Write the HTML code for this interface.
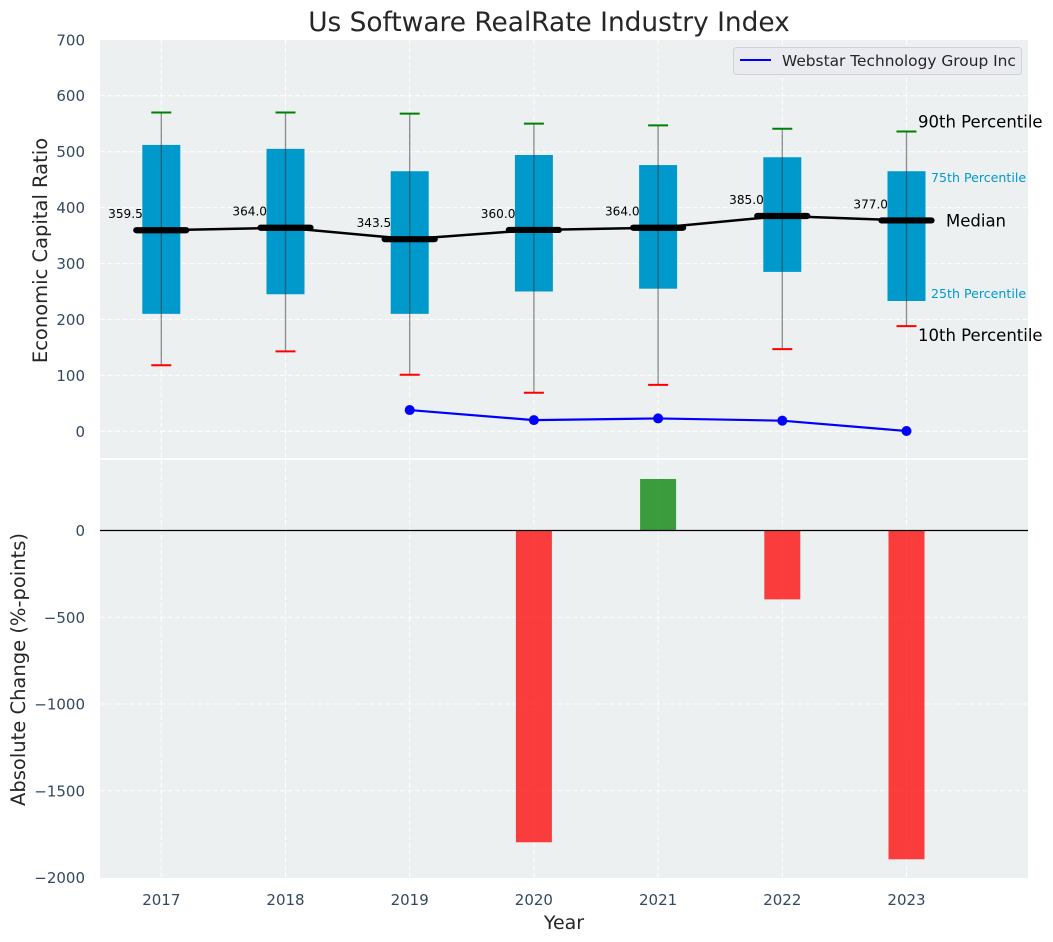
<!DOCTYPE html>
<html>
<head>
<meta charset="utf-8">
<title>Us Software RealRate Industry Index</title>
<style>
html,body{margin:0;padding:0;background:#fff;}
svg{display:block;font-family:"DejaVu Sans","Liberation Sans",sans-serif;}
</style>
</head>
<body>
<svg id="chart" xmlns="http://www.w3.org/2000/svg" width="1053" height="942" viewBox="0 0 1053 942">
  <rect x="100" y="40" width="928" height="418" fill="#ecf0f1"/>
  <rect x="100" y="460" width="928" height="418" fill="#ecf0f1"/>
  <g id="grid"></g>
  <g id="bars"></g>
  <line x1="100" x2="1028" y1="530.5" y2="530.5" stroke="#000" stroke-width="1.3"/>
  <g id="boxes"></g>
  <g id="lines"></g>
  <g id="ticks"></g>
  <g id="notes"></g>
  <text x="549" y="31" text-anchor="middle" font-size="26.4px" fill="#262626">Us Software RealRate Industry Index</text>
  <text transform="translate(47,250.5) rotate(-90)" text-anchor="middle" font-size="19.5px" fill="#262626">Economic Capital Ratio</text>
  <text transform="translate(25,669.5) rotate(-90)" text-anchor="middle" font-size="19.5px" fill="#262626">Absolute Change (%-points)</text>
  <text x="564" y="929" text-anchor="middle" font-size="19px" fill="#262626">Year</text>
  <g>
    <rect x="733.5" y="47.5" width="288" height="27" rx="3" fill="#e9ebf0" stroke="#cfd2d6" stroke-width="1"/>
    <line x1="740" x2="771" y1="60" y2="60" stroke="#0000ff" stroke-width="2"/>
    <text x="782" y="66" font-size="15.4px" fill="#262626">Webstar Technology Group Inc</text>
  </g>
</svg>
<script>
const years = [2017, 2018, 2019, 2020, 2021, 2022, 2023];
const p90 = [570, 570, 568, 550, 547, 541, 536];
const q3 = [512, 505, 465, 494, 476, 490, 465];
const medians = [359.5, 364, 343.5, 360, 364, 385, 377];
const q1 = [210, 245, 210, 250, 255, 285, 233];
const p10 = [118, 143, 101, 69, 83, 147, 188];
const companyYears = [2019, 2020, 2021, 2022, 2023];
const companyValues = [38, 20, 23, 19, 0.5];
const changeYears = [2020, 2021, 2022, 2023];
const changeValues = [-1797, 297, -397, -1895];
const topTicks = [0, 100, 200, 300, 400, 500, 600, 700];
const bottomTicks = [-2000, -1500, -1000, -500, 0];

const NS = 'http://www.w3.org/2000/svg';
const sx = v => 161.3 + (v - 2017) * 124.2;
const sy = v => 431.3 - v * 0.5593;
const sb = v => 530.5 - v * 0.1735;
const grid = document.getElementById('grid');
const bars = document.getElementById('bars');
const boxes = document.getElementById('boxes');
const lines = document.getElementById('lines');
const ticks = document.getElementById('ticks');
const notes = document.getElementById('notes');

function shape(tag, parent, attrs, txt) {
  const el = document.createElementNS(NS, tag);
  for (const k in attrs) el.setAttribute(k, attrs[k]);
  if (txt !== undefined) el.textContent = txt;
  parent.appendChild(el);
  return el;
}
const gridStyle = {stroke: '#ffffff', 'stroke-width': 1.1, 'stroke-dasharray': '5 2.5', opacity: 0.9};
const fmtTick = v => String(v).replace('-', '\u2212');

topTicks.forEach(v => {
  if (v < 700) {
    const g = shape('line', grid, {x1: 100, x2: 1028, y1: sy(v), y2: sy(v), ...gridStyle});
    
    
  }
  const t = shape('text', ticks, {x: 85, y: sy(v) + 5.5, 'text-anchor': 'end', 'font-size': '15px', fill: '#34495e'}, fmtTick(v));
  
  
});
bottomTicks.forEach(v => {
  if (v > -2000) {
    const g = shape('line', grid, {x1: 100, x2: 1028, y1: sb(v), y2: sb(v), ...gridStyle});
    
    
  }
  const t = shape('text', ticks, {x: 85, y: sb(v) + 5.5, 'text-anchor': 'end', 'font-size': '15px', fill: '#34495e'}, fmtTick(v));
  
  
});
years.forEach(y => {
  const g1 = shape('line', grid, {x1: sx(y), x2: sx(y), y1: 40, y2: 458, ...gridStyle});
  
  
  const g2 = shape('line', grid, {x1: sx(y), x2: sx(y), y1: 460, y2: 878, ...gridStyle});
  
  
  const t = shape('text', ticks, {x: sx(y), y: 905, 'text-anchor': 'middle', 'font-size': '15px', fill: '#34495e'}, String(y));
  
  
});

changeYears.forEach((y, i) => {
  const v = changeValues[i];
  const top = Math.min(sb(v), sb(0));
  const b = shape('rect', bars, {x: sx(y) - 18, y: top, width: 36, height: Math.abs(sb(v) - sb(0)), fill: v < 0 ? '#ff0000' : '#008000', opacity: 0.75});
  
  
});

years.forEach((y, i) => {
  const box = shape('rect', boxes, {x: sx(y) - 19, y: sy(q3[i]), width: 38, height: sy(q1[i]) - sy(q3[i]), fill: '#0099cc'});
  
  
  const w = shape('line', boxes, {x1: sx(y), x2: sx(y), y1: sy(p90[i]), y2: sy(p10[i]), stroke: '#333333', 'stroke-opacity': 0.55, 'stroke-width': 1.3});
  
  
  const c1 = shape('line', boxes, {x1: sx(y) - 10, x2: sx(y) + 10, y1: sy(p90[i]), y2: sy(p90[i]), stroke: '#008000', 'stroke-width': 2});
  
  
  const c2 = shape('line', boxes, {x1: sx(y) - 10, x2: sx(y) + 10, y1: sy(p10[i]), y2: sy(p10[i]), stroke: '#ff0000', 'stroke-width': 2});
  
  
});

const medianPath = shape('polyline', lines, {points: years.map((y, i) => sx(y) + ',' + sy(medians[i])).join(' '), fill: 'none', stroke: '#000', 'stroke-width': 2.5});


years.forEach((y, i) => {
  const m = shape('line', lines, {x1: sx(y) - 25, x2: sx(y) + 25, y1: sy(medians[i]), y2: sy(medians[i]), stroke: '#000', 'stroke-width': 6.2, 'stroke-linecap': 'round'});
  
  
  const t = shape('text', lines, {x: sx(y) - 18.5, y: sy(medians[i]) - 12, 'text-anchor': 'end', 'font-size': '12.1px', fill: '#000'}, medians[i].toFixed(1));
  
  
});

const companyPath = shape('polyline', lines, {points: companyYears.map((y, i) => sx(y) + ',' + sy(companyValues[i])).join(' '), fill: 'none', stroke: '#0000ff', 'stroke-width': 2.2});


companyYears.forEach((y, i) => {
  const p = shape('circle', lines, {cx: sx(y), cy: sy(companyValues[i]), r: 5, fill: '#0000ff'});
  
  
});

const last = years.length - 1;
const lastX = sx(years[last]);
const n90 = shape('text', notes, {x: lastX + 11.5, y: sy(p90[last]) - 4, 'font-size': '16.5px', fill: '#000'}, '90th Percentile');


const n75 = shape('text', notes, {x: lastX + 24.5, y: sy(q3[last]) + 11, 'font-size': '12.6px', fill: '#0099cc'}, '75th Percentile');


const n50 = shape('text', notes, {x: lastX + 39.5, y: sy(medians[last]) + 6, 'font-size': '16.5px', fill: '#000'}, 'Median');


const n25 = shape('text', notes, {x: lastX + 24.5, y: sy(q1[last]) - 3, 'font-size': '12.6px', fill: '#0099cc'}, '25th Percentile');


const n10 = shape('text', notes, {x: lastX + 11.5, y: sy(p10[last]) + 15, 'font-size': '16.5px', fill: '#000'}, '10th Percentile');


</script>
</body>
</html>
